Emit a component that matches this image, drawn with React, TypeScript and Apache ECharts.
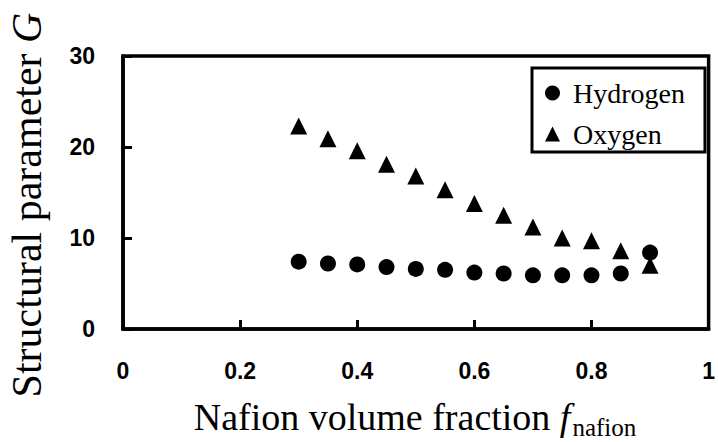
import React, { useEffect, useRef } from "react";
import * as echarts from "echarts";

const fractions = [0.3, 0.35, 0.4, 0.45, 0.5, 0.55, 0.6, 0.65, 0.7, 0.75, 0.8, 0.85, 0.9];
const hydrogen = [7.4, 7.2, 7.1, 6.8, 6.6, 6.5, 6.2, 6.1, 5.9, 5.9, 5.9, 6.1, 8.4];
const oxygen = [22.3, 20.9, 19.6, 18.1, 16.8, 15.3, 13.8, 12.5, 11.2, 10.0, 9.7, 8.6, 7.0];
const seriesNames = ["Hydrogen", "Oxygen"];

const SERIF = "'Liberation Serif', 'Times New Roman', serif";
const SANS = "'Liberation Sans', Arial, sans-serif";

export default function App() {
  const ref = useRef<HTMLDivElement>(null);
  useEffect(() => {
    if (!ref.current) return;
    const chart = echarts.init(ref.current, null, { renderer: "svg" });
    const pairs = (ys: number[]) => fractions.map((x, i) => [x, ys[i]]);
    const lineStyle = { color: "#000", width: 3.5 };
    chart.setOption({
      animation: false,
      backgroundColor: "#fff",
      grid: {
        left: 123,
        right: 6,
        top: 56,
        bottom: 113,
        show: true,
        borderColor: "#000",
        borderWidth: 3.5,
        backgroundColor: "#fff",
      },
      xAxis: {
        type: "value",
        min: 0,
        max: 1,
        interval: 0.2,
        axisLine: { show: true, lineStyle },
        axisTick: { show: true, inside: true, length: 9, lineStyle: { color: "#000", width: 3 } },
        axisLabel: { color: "#000", fontFamily: SANS, fontWeight: "bold", fontSize: 23, margin: 30 },
        splitLine: { show: false },
      },
      yAxis: {
        type: "value",
        min: 0,
        max: 30,
        interval: 10,
        axisLine: { show: true, lineStyle },
        axisTick: { show: true, inside: true, length: 9, lineStyle: { color: "#000", width: 3 } },
        axisLabel: { color: "#000", fontFamily: SANS, fontWeight: "bold", fontSize: 23, margin: 28 },
        splitLine: { show: false },
      },
      legend: {
        orient: "vertical",
        left: 532,
        top: 68,
        data: [
          { name: seriesNames[0], icon: "circle" },
          { name: seriesNames[1], icon: "triangle" },
        ],
        itemWidth: 15,
        itemHeight: 15,
        itemGap: 13,
        padding: [11, 20, 4, 13],
        borderColor: "#000",
        borderWidth: 3,
        backgroundColor: "#fff",
        textStyle: { color: "#000", fontFamily: SERIF, fontSize: 28, padding: [0, 0, 0, 8] },
      },
      graphic: [
        {
          type: "text",
          x: 27,
          y: 205,
          rotation: Math.PI / 2,
          style: {
            text: "Structural parameter {i|G}",
            fontFamily: SERIF,
            fontSize: 42,
            fill: "#000",
            align: "center",
            verticalAlign: "middle",
            rich: {
              i: { fontFamily: SERIF, fontSize: 42, fontStyle: "italic", fill: "#000" },
            },
          },
        },
        {
          type: "text",
          x: 415,
          y: 417,
          style: {
            text: "Nafion volume fraction {i|f}{sub|nafion}",
            fontFamily: SERIF,
            fontSize: 38,
            fill: "#000",
            align: "center",
            verticalAlign: "middle",
            rich: {
              i: { fontFamily: SERIF, fontSize: 38, fontStyle: "italic", fill: "#000" },
              sub: { fontFamily: SERIF, fontSize: 25, fill: "#000", padding: [20, 0, 0, 2] },
            },
          },
        },
      ],
      series: [
        {
          name: seriesNames[0],
          type: "scatter",
          symbol: "circle",
          symbolSize: 16,
          itemStyle: { color: "#000", opacity: 1 },
          data: pairs(hydrogen),
        },
        {
          name: seriesNames[1],
          type: "scatter",
          symbol: "triangle",
          symbolSize: 17,
          itemStyle: { color: "#000", opacity: 1 },
          data: pairs(oxygen),
        },
      ],
    });
    return () => chart.dispose();
  }, []);
  return (
    <div
      ref={ref}
      style={{ position: "fixed", left: 0, top: 0, width: 718, height: 442, background: "#fff" }}
    />
  );
}
